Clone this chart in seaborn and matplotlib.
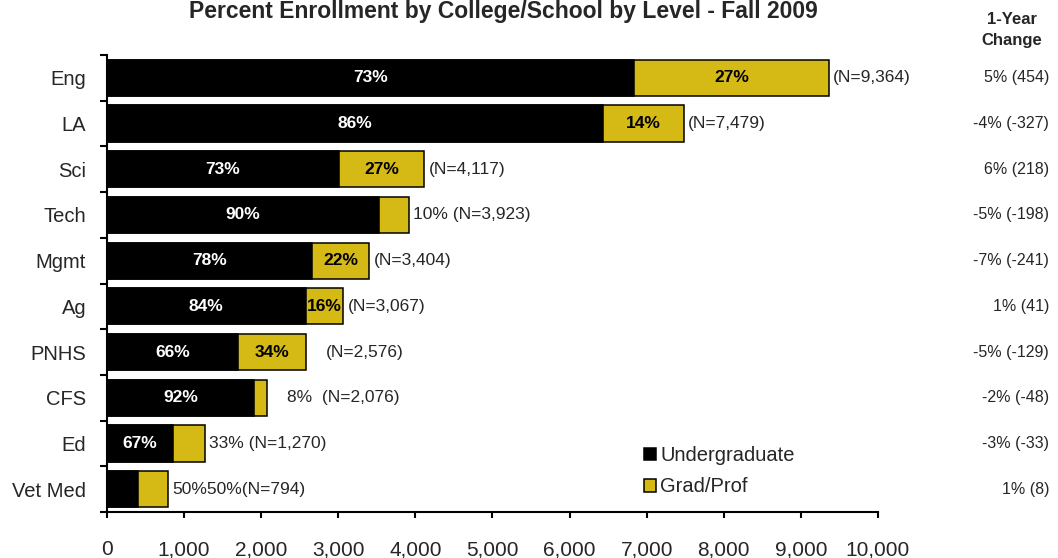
import matplotlib
matplotlib.use('Agg')
import matplotlib.pyplot as plt
import matplotlib.transforms as mtransforms
from matplotlib.patches import Patch
import numpy as np
import pandas as pd
import seaborn as sns

# data
colleges = ['Eng', 'LA', 'Sci', 'Tech', 'Mgmt', 'Ag', 'PNHS', 'CFS', 'Ed', 'Vet Med']
totals = [9364, 7479, 4117, 3923, 3404, 3067, 2576, 2076, 1270, 794]
ug_pct = [73, 86, 73, 90, 78, 84, 66, 92, 67, 50]
grad_pct = [27, 14, 27, 10, 22, 16, 34, 8, 33, 50]
change_pct = [5, -4, 6, -5, -7, 1, -5, -2, -3, 1]
change_n = [454, -327, 218, -198, -241, 41, -129, -48, -33, 8]
x_ticks = [0, 1000, 2000, 3000, 4000, 5000, 6000, 7000, 8000, 9000, 10000]

GOLD = '#D5B915'

df = pd.DataFrame({'college': colleges, 'total': totals,
                   'ug_pct': ug_pct, 'grad_pct': grad_pct})
df['ug'] = df['total'] * df['ug_pct'] / 100
df['grad'] = df['total'] - df['ug']

sns.set_style('white')
plt.rcParams['font.family'] = ['Liberation Sans', 'DejaVu Sans']

fig = plt.figure(figsize=(10.58, 5.58), dpi=100)
ax = fig.add_axes([107 / 1058, 1 - 512 / 558, 771 / 1058, 457 / 558])

# full bar in gold, undergrad part drawn over it in black
sns.barplot(data=df, x='total', y='college', orient='h', color=GOLD, saturation=1,
            width=0.79, edgecolor='black', linewidth=1.1, ax=ax)
sns.barplot(data=df, x='ug', y='college', orient='h', color='black', saturation=1,
            width=0.79, edgecolor='black', linewidth=1.1, ax=ax)

ax.set_xlim(0, 10000)
ax.set_ylim(len(colleges) - 0.5, -0.5)
ax.set_xticks(x_ticks)
ax.set_xticklabels([f'{t:,}' for t in x_ticks])
ax.set_xlabel('')
ax.set_ylabel('')

for s in ['top', 'right']:
    ax.spines[s].set_visible(False)
for s in ['left', 'bottom']:
    ax.spines[s].set_color('black')
    ax.spines[s].set_linewidth(1.5)

ax.tick_params(axis='x', direction='out', length=4.5, width=1.5, color='black',
               labelsize=15, pad=16, bottom=True)
ax.tick_params(axis='y', which='major', length=0, labelsize=14.5, pad=15)
ax.set_yticks(np.arange(-0.5, len(colleges) + 0.5, 1), minor=True)
ax.tick_params(axis='y', which='minor', direction='out', length=5, width=1.5,
               color='black', left=True)

# segment labels
min_inside = 450
extra_gap = {'PNHS': 16, 'CFS': 16}
for i, row in df.iterrows():
    outside = []
    if row['ug'] >= min_inside:
        ax.text(row['ug'] / 2, i, f"{row['ug_pct']}%", color='white', fontsize=12.5,
                fontweight='bold', ha='center', va='center')
    else:
        outside.append(f"{row['ug_pct']}%")
    if row['grad'] >= min_inside:
        ax.text(row['ug'] + row['grad'] / 2, i, f"{row['grad_pct']}%", color='black',
                fontsize=12.5, fontweight='bold', ha='center', va='center')
    else:
        outside.append(f"{row['grad_pct']}%")
    n_lab = f"(N={row['total']:,})"
    if len(outside) == 2:
        label = ''.join(outside) + n_lab
    elif outside:
        label = outside[0] + (' ' if row['college'] != 'CFS' else '  ') + n_lab
    else:
        label = n_lab
    gap = 4 + extra_gap.get(row['college'], 0)
    ax.annotate(label, xy=(row['total'], i), xytext=(gap * 0.72, 0),
                textcoords='offset points', ha='left', va='center', fontsize=12.5)

# one-year change column on the right
trans = mtransforms.blended_transform_factory(fig.transFigure, ax.transData)
for i, (p, n) in enumerate(zip(change_pct, change_n)):
    ax.text(1049 / 1058, i, f'{p}% ({n})', transform=trans, ha='right', va='center',
            fontsize=11.5, clip_on=False)

fig.text(1012 / 1058, 1 - 20 / 558, '1-Year', ha='center', va='center',
         fontsize=12, fontweight='bold')
fig.text(1012 / 1058, 1 - 41 / 558, 'Change', ha='center', va='center',
         fontsize=12, fontweight='bold')
fig.text(503 / 1058, 1.0, 'Percent Enrollment by College/School by Level - Fall 2009',
         ha='center', va='top', fontsize=16.5, fontweight='bold')

handles = [Patch(facecolor='black', edgecolor='black', linewidth=1.1),
           Patch(facecolor=GOLD, edgecolor='black', linewidth=1.1)]
fig.legend(handles, ['Undergraduate', 'Grad/Prof'], loc='upper left',
           bbox_to_anchor=(644 / 1058, 1 - 446 / 558), frameon=False, fontsize=14.5,
           handlelength=0.6, handleheight=0.6, handletextpad=0.2, labelspacing=0.62,
           borderpad=0, borderaxespad=0)

fig.savefig('out.png', dpi=100)
